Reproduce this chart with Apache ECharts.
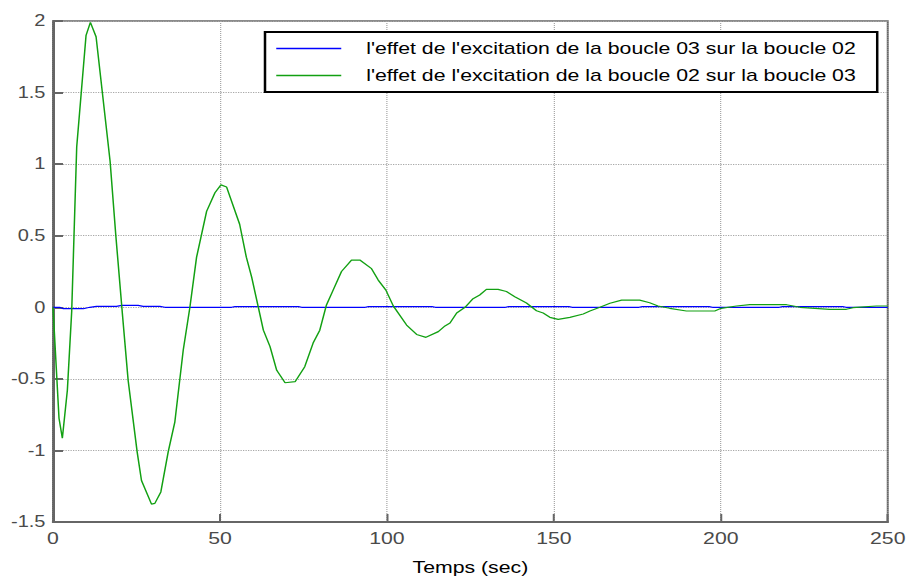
<!DOCTYPE html>
<html>
<head>
<meta charset="utf-8">
<script src="https://cdn.jsdelivr.net/npm/echarts@6/dist/echarts.min.js"></script>
<style>
  html, body { margin: 0; padding: 0; background: #fff; overflow: hidden; }
  /* The figure is laid out on a narrower box and widened horizontally,
     giving the wide letterforms of the exported figure. */
  #chart { width: 727.2px; height: 576px; transform: scaleX(1.25); transform-origin: 0 0; }
</style>
</head>
<body>
<div id="chart"></div>
<script>
// Time axis (seconds) and tick settings
const xTicks = [0, 50, 100, 150, 200, 250];
const yTicks = [-1.5, -1, -0.5, 0, 0.5, 1, 1.5, 2];

const seriesNames = [
  "l'effet de l'excitation de la boucle 03 sur la boucle 02",
  "l'effet de l'excitation de la boucle 02 sur la boucle 03"
];

// Response of loop 02 to the excitation of loop 03 (nearly flat)
const tBlue = [0, 2, 3.1, 9.1, 11, 13, 19, 20.6, 25.5, 27, 32, 33.5, 53.5, 54.5, 73.5, 74.5,
  93.5, 94.5, 113.5, 114.5, 135.5, 136.5, 154.5, 155.5, 175.5, 176.5, 196.5, 197.5,
  217.5, 218.5, 236.5, 237.5, 250];
const vBlue = [0, 0, -0.01, -0.01, 0, 0.006, 0.006, 0.013, 0.013, 0.006, 0.006, 0, 0, 0.005, 0.005, 0,
  0, 0.005, 0.005, 0, 0, 0.005, 0.005, 0, 0, 0.005, 0.005, 0,
  0, 0.005, 0.005, 0, 0];

// Response of loop 03 to the excitation of loop 02 (damped oscillation)
const tGreen = [0, 1.8, 2.8, 4.3, 5.6, 7.1, 9.9, 11.2, 12.9, 17.1, 18.8, 20.8, 22.5, 25.2, 26.5,
  29.5, 30.5, 32.3, 34.5, 36.5, 39.0, 41.0, 43.0, 46.0, 48.5, 50.3, 52.0, 55.9, 57.9, 59.5,
  61.5, 63, 65, 67, 69.5, 72.5, 75.4, 77.9, 79.9, 81.9, 83.9, 86.4, 89.4, 91.9, 95.4, 97.4,
  99.7, 101.9, 105.9, 108.9, 111.7, 115.4, 117.4, 118.9, 120.9, 123.4, 125.8, 127.8, 129.8,
  133.3, 135.8, 138.3, 141.8, 144.8, 146.8, 148.8, 151.3, 154.8, 158.8, 160.8, 163.8, 166.8,
  170.3, 175.7, 178.7, 181.2, 184.7, 189.7, 198.2, 200.1, 204.7, 208.7, 219.7, 223.7, 232.6,
  237.6, 239.6, 246.6, 250];
const vGreen = [0, -0.775, -0.915, -0.58, -0.03, 1.12, 1.90, 1.99, 1.89, 1.02, 0.505, -0.05, -0.51, -1.01, -1.21,
  -1.375, -1.37, -1.29, -1.01, -0.80, -0.30, 0.0, 0.35, 0.67, 0.80, 0.855, 0.84, 0.58, 0.35, 0.21,
  0.0, -0.16, -0.275, -0.44, -0.527, -0.52, -0.415, -0.25, -0.16, 0.016, 0.12, 0.25, 0.33, 0.33, 0.27, 0.19,
  0.12, 0.01, -0.124, -0.19, -0.21, -0.17, -0.13, -0.11, -0.04, 0.0, 0.06, 0.086, 0.125,
  0.125, 0.11, 0.074, 0.03, -0.024, -0.04, -0.07, -0.084, -0.07, -0.047, -0.026, 0.0, 0.028,
  0.05, 0.05, 0.032, 0.009, -0.007, -0.026, -0.026, -0.007, 0.009, 0.018, 0.018, 0.0, -0.014,
  -0.014, -0.003, 0.009, 0.009];

const pairs = (t, v) => t.map((x, i) => [x, v[i]]);

const FONT = '"Liberation Sans", Arial, sans-serif';
const AXIS_GREY = '#666666';
const LABEL_GREY = '#4a4a4a';

const chart = echarts.init(document.getElementById('chart'), null, { renderer: 'svg' });
chart.setOption({
  animation: false,
  backgroundColor: '#ffffff',
  grid: {
    left: 42.4, right: 16.8, top: 21, bottom: 54,
    outerBoundsMode: 'none',
    show: true, borderColor: AXIS_GREY, borderWidth: 1.6, backgroundColor: 'transparent'
  },
  legend: {
    orient: 'vertical',
    left: 212, top: 32,
    backgroundColor: '#ffffff',
    borderColor: '#000000', borderWidth: 2, borderRadius: 0,
    padding: [8, 17, 8, 9],
    icon: 'rect',
    itemWidth: 52, itemHeight: 1.3, itemGap: 10,
    textStyle: { fontFamily: FONT, fontSize: 17, lineHeight: 16, color: '#000000', padding: [0, 0, 0, 15] },
    data: seriesNames
  },
  xAxis: {
    type: 'value', min: xTicks[0], max: xTicks[xTicks.length - 1], interval: 50,
    name: 'Temps (sec)', nameLocation: 'middle', nameGap: 37,
    nameTextStyle: { fontFamily: FONT, fontSize: 17, color: '#000000' },
    axisLine: { show: true, onZero: false, lineStyle: { color: AXIS_GREY, width: 2 } },
    axisTick: { show: true, inside: true, length: 8, lineStyle: { color: AXIS_GREY, width: 1.6 } },
    axisLabel: { fontFamily: FONT, fontSize: 17, color: LABEL_GREY, margin: 8 },
    splitLine: { show: true, lineStyle: { color: '#a8a8a8', width: 1, type: [1, 1] } }
  },
  yAxis: {
    type: 'value', min: yTicks[0], max: yTicks[yTicks.length - 1], interval: 0.5,
    axisLine: { show: true, onZero: false, lineStyle: { color: AXIS_GREY, width: 2 } },
    axisTick: { show: true, inside: true, length: 8, lineStyle: { color: AXIS_GREY, width: 2 } },
    axisLabel: { fontFamily: FONT, fontSize: 16, color: LABEL_GREY, margin: 6 },
    splitLine: { show: true, lineStyle: { color: '#a8a8a8', width: 1, type: [1, 1] } }
  },
  series: [
    {
      name: seriesNames[0], type: 'line', data: pairs(tBlue, vBlue),
      symbol: 'none', smooth: false, z: 3,
      lineStyle: { color: '#0000ff', width: 1.2 }, itemStyle: { color: '#0000ff' }
    },
    {
      name: seriesNames[1], type: 'line', data: pairs(tGreen, vGreen),
      symbol: 'none', smooth: false, z: 4,
      lineStyle: { color: '#12a012', width: 1.2 }, itemStyle: { color: '#12a012' }
    }
  ]
});
</script>
</body>
</html>
